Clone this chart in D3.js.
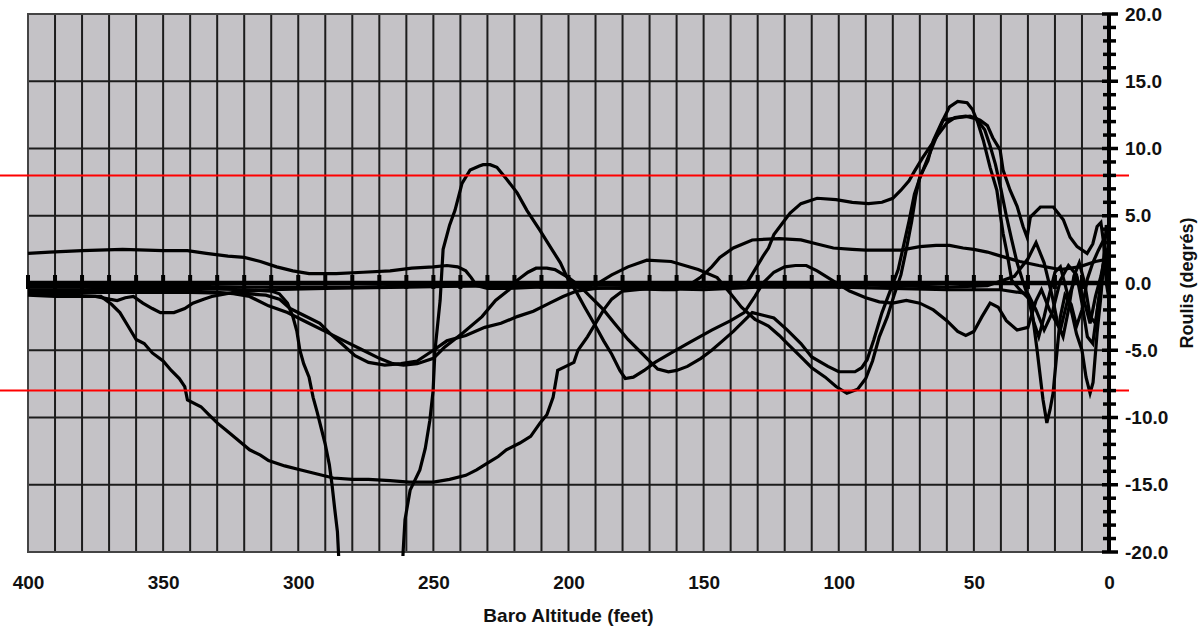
<!DOCTYPE html>
<html><head><meta charset="utf-8">
<script src="https://cdn.jsdelivr.net/npm/d3@7"></script>
<style>
html,body{margin:0;padding:0;background:#fff;}
svg{display:block;}
text{font-family:"Liberation Sans",Arial,sans-serif;font-weight:bold;fill:#111;}
</style></head>
<body>
<svg id="chart" width="1198" height="632"></svg>
<script>
// ---------- data ----------
const xTickValues = [400,350,300,250,200,150,100,50,0];
const xGridValues = [400,390,380,370,360,350,340,330,320,310,300,290,280,270,260,250,240,230,220,210,200,190,180,170,160,150,140,130,120,110,100,90,80,70,60,50,40,30,20,10,0];
const yTickValues = [-20,-15,-10,-5,0,5,10,15,20];
const yMinorValues = [-19,-18,-17,-16,-14,-13,-12,-11,-9,-8,-7,-6,-4,-3,-2,-1,1,2,3,4,6,7,8,9,11,12,13,14,16,17,18,19];
const limitValues = [8,-8];

const zeroSeries = [[400,0],[390,0],[380,0],[370,0],[360,0],[350,0],[340,0],[330,0],[320,0],[310,0],[300,0],[290,0],[280,0],[270,0],[260,0],[250,0],[240,0],[230,0],[220,0],[210,0],[200,0],[190,0],[180,0],[170,0],[160,0],[150,0],[140,0],[130,0],[120,0],[110,0],[100,0],[90,0],[80,0],[70,0],[60,0],[50,0],[40,0],[30,0],[20,0],[10,0],[0,0]];

const seriesA = [[400,2.2],[392,2.3],[380,2.4],[365,2.5],[350,2.4],[341,2.4],[334,2.2],[326,2.0],[320,1.9],[314,1.6],[308,1.2],[302,0.9],[296,0.7],[286,0.7],[276,0.8],[266,0.9],[258,1.1],[250,1.2],[245,1.3],[241,1.2],[238,0.9],[236,0.4],[234,-0.2],[230,-0.4],[222,-0.4],[212,-0.3],[202,-0.3],[194,-0.2],[189,0.0],[184,0.6],[178,1.2],[171,1.7],[162,1.6],[152,1.0],[145,0.4],[140,-0.8],[136,-1.8],[131,-2.7],[126,-3.2],[122,-3.9],[119,-4.5],[114,-5.5],[110,-6.3],[105,-7.0],[101,-7.7],[97,-8.2],[93,-7.9],[90,-7.1],[87.5,-5.8],[85,-4.0],[82,-2.5],[79.5,-0.9],[77,0.6],[75,2.5],[73,4.6],[71.5,6.5],[70,7.9],[67,9.1],[65,10.6],[62,11.9],[59,13.1],[56,13.5],[52.5,13.4],[50.5,12.9],[48.5,11.9],[46.5,10.6],[44,8.6],[41.5,6.9],[40.3,5.2],[39.2,3.7],[37.7,2.2],[36,0.2],[33,-0.5],[29,-1.3],[26.6,-5],[24.4,-8.7],[23,-10.4],[21.8,-9.4],[20.7,-8.2],[19.2,-5],[18,-2.5],[16.3,-0.9],[14,-1.6],[12,-3.2],[10,-2.0],[8,0.3],[6,1.5],[4,2.4],[2,3.2],[0,1.2]];

const seriesP = [[400,-0.3],[380,-0.3],[360,-0.4],[340,-0.4],[320,-0.5],[310,-0.6],[307,-0.8],[304,-1.5],[302,-2.5],[300.5,-3.6],[299.4,-5.0],[298,-6.0],[296,-7.0],[294.5,-8.5],[293,-9.6],[291.5,-10.8],[290,-12.0],[288.5,-13.5],[287.5,-15.0],[286.5,-16.8],[285.5,-18.5],[285,-20.5],[284,-24],[280,-30],[265,-30],[262,-24],[261.2,-20],[260.5,-17.6],[258.6,-15.4],[255,-13.9],[253,-12.3],[251.3,-10.2],[250.1,-8.0],[249.4,-5.0],[247.5,-1.3],[246.4,2.5],[244,4.3],[242,5.4],[239.4,7.4],[236.4,8.4],[233,8.7],[231.6,8.8],[229,8.8],[226.5,8.6],[222.8,7.7],[219,6.7],[215.4,5.4],[210.5,3.9],[206.8,2.7],[203,1.5],[200.6,0.45],[197,-0.7],[194,-1.8],[190,-3.2],[187,-4.3],[184,-5.3],[181,-6.5],[179,-7.1],[176,-7.0],[172,-6.5],[168,-5.9],[162,-5.2],[155,-4.4],[147,-3.5],[140,-2.8],[135,-2.2],[131,-1.0],[128,0.0],[124,0.8],[120,1.2],[116,1.3],[112,1.3],[108,0.9],[104,0.4],[100,-0.1],[96,-0.6],[90,-1.1],[85,-1.4],[80,-1.5],[75,-1.3],[70,-1.5],[65,-2.0],[60,-2.8],[56,-3.6],[53,-3.9],[50,-3.6],[47,-2.5],[44,-1.5],[41,-1.8],[38,-2.8],[34,-3.5],[30,-3.3],[27,-1.3],[25,-0.5],[22,-2.0],[18,-3.5],[15,-1.0],[12,0.5],[9,-1.5],[7,-3.0],[5,-1.0],[3,0.5],[1.5,2.0],[0,0.5]];

const seriesU1 = [[400,-0.5],[370,-0.5],[340,-0.6],[330,-0.7],[324,-0.8],[318,-1.0],[311,-1.7],[304,-2.2],[297,-2.9],[290,-3.6],[283,-4.3],[276,-5.0],[270,-5.6],[265,-6.0],[261,-6.1],[256,-6.0],[250,-5.6],[246,-4.8],[239,-3.7],[232,-2.5],[227,-1.3],[222,-0.5],[219,0.2],[215,0.8],[212,1.1],[208,1.1],[205,1.0],[200,0.4],[196,-0.2],[192,-1.0],[187,-2.0],[183,-3.0],[178,-4.2],[174,-5.0],[170,-5.8],[167,-6.4],[163,-6.6],[160,-6.5],[156,-6.2],[151,-5.6],[147,-5.0],[143,-4.3],[139,-3.6],[135,-2.8],[132,-2.2],[128,-2.4],[124,-2.6],[119,-3.5],[114,-4.5],[110,-5.5],[104,-6.2],[100,-6.6],[94,-6.6],[91.5,-6.3],[89.5,-5.7],[87,-4.2],[84,-2.2],[81,-0.6],[78,1.0],[76,2.8],[74,4.6],[72,6.6],[70,7.8],[67,9.3],[64,10.8],[61.4,12.1],[56,12.3],[51.4,12.4],[47.7,12.1],[45,11.7],[43,10.8],[40.3,9.9],[39.2,8.4],[36.6,6.9],[34,5.7],[31.8,4.2],[30.3,3.4],[29.1,4.9],[25.4,5.65],[20.6,5.65],[16.9,4.7],[14.4,3.4],[11.8,2.7],[8.1,2.2],[6,2.9],[4.4,4.2],[3,4.5],[2,3.0],[1,0.0],[0,-1.2]];

const seriesU2 = [[400,-0.7],[370,-0.7],[340,-0.7],[320,-0.8],[312,-0.9],[307,-1.2],[303,-1.9],[298,-2.4],[292,-3.0],[288,-3.8],[284,-4.5],[279,-5.4],[274,-5.9],[268,-6.1],[262,-6.0],[256,-5.8],[250,-5.0],[245,-4.3],[238,-3.9],[231,-3.3],[225,-3.0],[219,-2.5],[213,-2.1],[207,-1.5],[202,-1.0],[197,-0.6],[190,-0.4],[170,-0.3],[150,-0.3],[138,-0.2],[134,0.0],[131,1.0],[128,2.0],[126,2.6],[124,3.6],[121,4.4],[118,5.2],[114,5.9],[108,6.3],[101,6.2],[95,6.0],[89,5.9],[84,6.0],[80,6.3],[77,6.9],[74,7.6],[72,8.3],[69,9.3],[66,10.2],[63,11.1],[60,11.9],[57,12.3],[53,12.4],[49,12.2],[46,11.4],[44,10.2],[42,8.8],[40,7.0],[38,5.0],[36,3.2],[34,1.5],[32,0.2],[30,-1.0],[28,-2.8],[26,-4.0],[24,-2.5],[22,-0.8],[20,0.8],[18,1.2],[16,-0.3],[14,-2.0],[12,-3.8],[10,-5.0],[8.5,-7.0],[7,-8.2],[5.9,-7.4],[4.4,-3.7],[3,-1.0],[2,1.5],[1,4.3],[0,3.6]];

const seriesC = [[400,-0.9],[390,-1.0],[380,-1.0],[373,-1.0],[369,-1.6],[366,-2.2],[363,-3.2],[360,-4.2],[357,-4.5],[354,-5.2],[350,-5.8],[347,-6.5],[344,-7.1],[342,-7.7],[341,-8.7],[336,-9.2],[333,-9.8],[330,-10.4],[327,-10.9],[324,-11.4],[321,-11.9],[318,-12.4],[314,-12.8],[311,-13.2],[305,-13.6],[299,-13.9],[293,-14.2],[287,-14.5],[280,-14.6],[274,-14.6],[266,-14.7],[259,-14.8],[250,-14.8],[244,-14.6],[238,-14.3],[234,-13.9],[230,-13.4],[226,-12.9],[223,-12.4],[218,-11.9],[214,-11.4],[210.5,-10.4],[208,-9.8],[205.7,-8.5],[204,-6.5],[201,-6.2],[198,-5.9],[196.5,-5.0],[193,-4.0],[190,-3.0],[187,-2.0],[184,-1.2],[180,-0.6],[170,-0.4],[150,-0.5],[130,-0.3],[100,-0.3],[80,-0.4],[60,-0.5],[40,-0.5],[30,-0.8],[27,-2.0],[24,-3.5],[21,-2.2],[18,0.2],[15,1.3],[12,0.6],[10,-1.5],[8,-4.0],[6,-4.5],[4,-1.5],[2,1.0],[0,0.2]];

const seriesD = [[400,-0.2],[360,-0.2],[320,-0.3],[280,-0.3],[240,-0.2],[200,-0.3],[180,-0.4],[165,-0.5],[160,-0.5],[155,-0.1],[151,0.45],[147,1.2],[144,1.9],[139,2.6],[132,3.2],[122,3.3],[114,3.2],[108,2.9],[102,2.6],[95,2.5],[90,2.45],[77,2.45],[70,2.7],[64,2.8],[59,2.8],[54,2.6],[50,2.5],[45,2.3],[40,2.0],[33,1.6],[26,1.3],[18,1.0],[11,1.2],[5,1.6],[0,1.8]];

const seriesH = [[400,-0.8],[385,-0.9],[375,-1.0],[370,-1.2],[367,-1.3],[364,-1.1],[361,-1.0],[357.5,-1.5],[354,-1.9],[351,-2.2],[346,-2.2],[342,-1.9],[339,-1.5],[335,-1.2],[332,-1.0],[324,-0.7],[310,-0.5],[290,-0.4],[260,-0.3],[230,-0.2],[200,-0.1],[170,-0.2],[140,-0.3],[120,-0.2],[100,-0.1],[80,-0.2],[60,-0.3],[45,-0.2],[35,0.5],[30,1.8],[27,3.0],[24,1.5],[21,-1.0],[19,-3.0],[17,-4.0],[15,-2.0],[13,0.5],[11,1.5],[9,0.0],[7,-2.5],[5,-3.0],[3,0.0],[1.5,2.5],[0,1.0]];

const allSeries = [seriesA, seriesP, seriesU1, seriesU2, seriesC, seriesD, seriesH];

// ---------- layout ----------
const L = 28, R = 1109, T = 14, B = 552;
const svg = d3.select("#chart");
const x = d3.scaleLinear().domain([400,0]).range([L,R]);
const y = d3.scaleLinear().domain([-20,20]).range([B,T]);

svg.append("defs").append("clipPath").attr("id","clip")
  .append("rect").attr("x",L-6).attr("y",T).attr("width",R-L+6).attr("height",B-T+4);

// plot background
svg.append("rect").attr("x",L).attr("y",T).attr("width",R-L).attr("height",B-T).attr("fill","#c4c2c6");

// grid
const grid = svg.append("g");
grid.selectAll("line.vx").data(xGridValues).join("line")
  .attr("x1",d=>x(d)).attr("x2",d=>x(d)).attr("y1",T).attr("y2",B)
  .attr("stroke","#1c1c1c").attr("stroke-width",2);
grid.selectAll("line.hy").data(yTickValues).join("line").attr("class","hy")
  .attr("x1",L).attr("x2",R).attr("y1",d=>y(d)).attr("y2",d=>y(d))
  .attr("stroke","#1c1c1c").attr("stroke-width",2);

// frame
svg.append("rect").attr("x",L).attr("y",T).attr("width",R-L).attr("height",B-T)
  .attr("fill","none").attr("stroke","#444").attr("stroke-width",2);

// data lines
const line = d3.line().x(d=>x(d[0])).y(d=>y(d[1]));
const lines = svg.append("g").attr("clip-path","url(#clip)");
lines.selectAll("path.s").data(allSeries).join("path").attr("class","s")
  .attr("d",line).attr("fill","none").attr("stroke","#000")
  .attr("stroke-width",3.2).attr("stroke-linejoin","miter");

// zero reference series with markers
lines.append("path").datum(zeroSeries).attr("d",line)
  .attr("fill","none").attr("stroke","#000").attr("stroke-width",4.5);
lines.selectAll("rect.mk").data(zeroSeries).join("rect").attr("class","mk")
  .attr("x",d=>x(d[0])-2).attr("y",d=>y(d[1])-8).attr("width",4).attr("height",14).attr("fill","#000");

// red limit lines
svg.selectAll("line.lim").data(limitValues).join("line").attr("class","lim")
  .attr("x1",0).attr("x2",1129).attr("y1",d=>y(d)).attr("y2",d=>y(d))
  .attr("stroke","#ff0000").attr("stroke-width",2);

// right axis
const ax = svg.append("g");
ax.append("line").attr("x1",R).attr("x2",R).attr("y1",T).attr("y2",B)
  .attr("stroke","#000").attr("stroke-width",4);
ax.selectAll("line.mn").data(yMinorValues).join("line").attr("class","mn")
  .attr("x1",R-6).attr("x2",R+7).attr("y1",d=>y(d)).attr("y2",d=>y(d))
  .attr("stroke","#000").attr("stroke-width",3.5);
ax.selectAll("line.mj").data(yTickValues).join("line").attr("class","mj")
  .attr("x1",R-7).attr("x2",R+9).attr("y1",d=>y(d)).attr("y2",d=>y(d))
  .attr("stroke","#000").attr("stroke-width",3.5);

const fmt1 = d => d3.format(".1f")(d).replace("\u2212","-");
const yAxis = d3.axisRight(y).tickValues(yTickValues).tickFormat(fmt1).tickSize(0).tickPadding(16);
const gy = svg.append("g").attr("transform",`translate(${R},0)`).call(yAxis);
gy.select(".domain").remove();
gy.selectAll("text").attr("font-size",19).attr("font-family","Liberation Sans, Arial, sans-serif").attr("font-weight","bold").attr("fill","#111");

const xAxis = d3.axisBottom(x).tickValues(xTickValues).tickFormat(d3.format("d")).tickSize(0).tickPadding(24);
const gx = svg.append("g").attr("transform",`translate(0,${B})`).call(xAxis);
gx.select(".domain").remove();
gx.selectAll("text").attr("font-size",19).attr("font-family","Liberation Sans, Arial, sans-serif").attr("font-weight","bold").attr("fill","#111");

// titles
svg.append("text").attr("x",(L+R)/2).attr("y",622).attr("text-anchor","middle")
  .attr("font-size",19).text("Baro Altitude (feet)");
svg.append("text").attr("transform",`translate(1193,283) rotate(-90)`).attr("text-anchor","middle")
  .attr("font-size",18).text("Roulis (degrés)");
</script>
</body></html>
